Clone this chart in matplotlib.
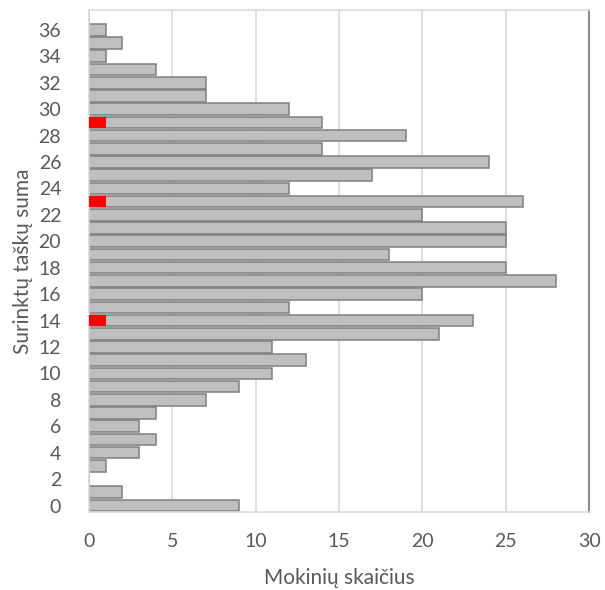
import numpy as np
import matplotlib.pyplot as plt

plt.rcParams['font.family'] = ['Lato', 'DejaVu Sans']

scores = list(range(0, 38))
counts = [9, 2, 0, 1, 3, 4, 3, 4, 7, 9,
          11, 13, 11, 21, 23, 12, 20, 28, 25, 18,
          25, 25, 20, 26, 12, 17, 24, 14, 19, 14,
          12, 7, 7, 4, 1, 2, 1, 0]
red_scores = [14, 23, 29]
red_counts = [1, 1, 1]

fig = plt.figure(figsize=(6.05, 5.9), dpi=100)
ax = fig.add_axes([0.147, 0.132, 0.827, 0.851])

ax.barh(scores, counts, height=0.88, color='#BFBFBF', edgecolor='#7F7F7F',
        linewidth=1.1, zorder=2)
ax.barh(red_scores, red_counts, height=0.84, color='#FF0000', edgecolor='none',
        zorder=3)

ax.set_xlim(0, 30)
ax.set_ylim(-0.5, 37.5)
ax.set_xticks(np.arange(0, 31, 5))
ax.set_yticks(np.arange(0, 37, 2))
ax.xaxis.grid(True, color='#D9D9D9', linewidth=1.2, zorder=0)
ax.set_axisbelow(True)

for side in ['top', 'left', 'bottom']:
    ax.spines[side].set_color('#D9D9D9')
    ax.spines[side].set_linewidth(1.2)
ax.spines['right'].set_color('#8C8C8C')
ax.spines['right'].set_linewidth(1.5)

ax.tick_params(axis='both', length=0, labelsize=14, labelcolor='#595959')
ax.tick_params(axis='x', pad=15)
ax.tick_params(axis='y', pad=20)

ax.set_xlabel('Mokinių skaičius', fontsize=15, color='#595959', labelpad=13)
ax.set_ylabel('Surinktų taškų suma', fontsize=15, color='#595959', labelpad=4)

fig.savefig('out.png', dpi=100)
